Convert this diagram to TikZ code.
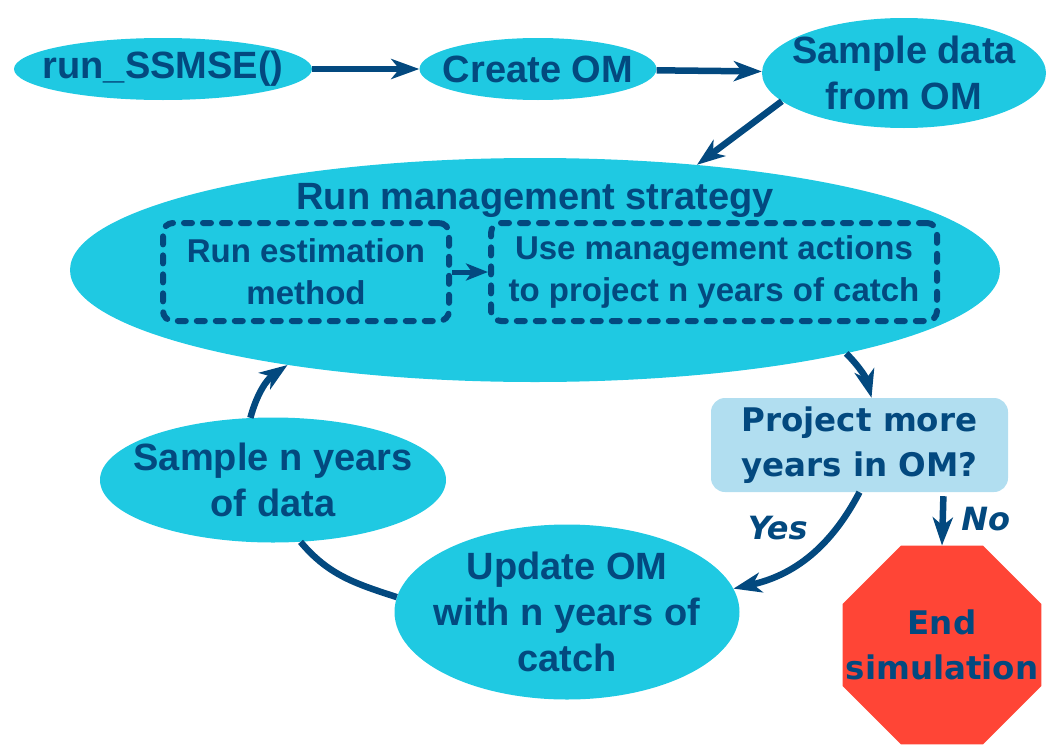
\documentclass[tikz,border=0pt]{standalone}
\usepackage{fontspec}
\setmainfont{Liberation Sans}
\newfontfamily\qfont{DejaVu Sans}
\usetikzlibrary{arrows.meta}
\usetikzlibrary{shapes.geometric}
\usepackage{xcolor}

\definecolor{ssblue}{HTML}{03497F}
\definecolor{sscyan}{HTML}{1FC9E2}
\definecolor{sslight}{HTML}{B1DEF0}
\definecolor{ssred}{HTML}{FF4536}

\begin{document}
\begin{tikzpicture}[x=1pt,y=-1pt,
    blob/.style={ellipse, fill=sscyan, inner sep=0pt},
    txt/.style={text=ssblue, font=\fontsize{38}{46}\selectfont\bfseries, align=center},
    inner/.style={text=ssblue, font=\fontsize{33}{42}\selectfont\bfseries, align=center},
    qtxt/.style={text=ssblue, font=\qfont\fontsize{32.5}{45}\selectfont\bfseries, align=center},
    answer/.style={text=ssblue, font=\qfont\fontsize{32}{38}\selectfont\bfseries\itshape},
    dotbox/.style={draw=ssblue, line width=6pt, rounded corners=10pt,
      dash pattern=on 8pt off 11pt, line cap=round},
    link/.style={draw=ssblue, line width=6.5pt, -{Stealth[length=28pt,width=20pt,inset=8pt]}},
    slink/.style={draw=ssblue, line width=5pt, -{Stealth[length=22pt,width=17pt,inset=6pt]}},
    plain/.style={draw=ssblue, line width=6.5pt}]

      \useasboundingbox (0,0) rectangle (1054,744);

      % Top row
      \node[blob, minimum width=298pt, minimum height=62pt,
        label={[txt]center:run\_SSMSE()}] (run) at (163,69) {};
      \node[blob, minimum width=237pt, minimum height=62pt,
        label={[txt]center:Create OM}] (create) at (538,69) {};
      \node[blob, minimum width=284pt, minimum height=110pt,
        label={[txt]center:Sample data\\from OM}] (sampdata) at (904,73) {};

      % Management strategy
      \node[blob, minimum width=930pt, minimum height=224pt,
        label={[txt, yshift=70pt]center:Run management strategy}] (big) at (535,270) {};
      \node[dotbox, inner, minimum width=286pt, minimum height=98pt] (estim) at (306,272)
        {Run estimation\\method};
      \node[dotbox, inner, minimum width=446pt, minimum height=98pt] (manage) at (714,272)
        {Use management actions\\to project n years of catch};

      % Decision and end
      \node[rectangle, rounded corners=14pt, fill=sslight, qtxt,
        minimum width=297pt, minimum height=94pt] (dec) at (859.5,445)
        {Project more\\years in OM?};
      \node[regular polygon, regular polygon sides=8, minimum size=215pt, inner sep=0pt,
        fill=ssred, label={[qtxt]center:End\\simulation}] (endsim) at (942,645) {};

      % Loop
      \node[blob, minimum width=346pt, minimum height=125pt,
        label={[txt]center:Sample n years\\of data}] (sampn) at (273,480) {};
      \node[blob, minimum width=345pt, minimum height=175pt,
        label={[txt]center:Update OM\\with n years of\\catch}] (update) at (567,612) {};

      % Connectors
      \draw[link] (run) -- (create);
      \draw[link] (create) -- (sampdata);
      \draw[link] (sampdata.193) -- (big.33);
      \draw[slink] (estim) -- (manage);
      \draw[link] (big.-15) to[bend left=15] ([xshift=12pt]dec.north);
      \draw[link] (dec.south) to[bend left=25]
        node[answer, pos=0.25, left=22pt] {Yes} (update.8);
      \draw[link, shorten <=4pt] ([xshift=84pt]dec.south) --
        node[answer, right=12pt] {No} (endsim.north);
      \draw[plain] (sampn.-66) to[out=-50, in=162] (update.175);
      \draw[link] (sampn.110) to[bend left=20] (big.201);

\end{tikzpicture}
\end{document}
